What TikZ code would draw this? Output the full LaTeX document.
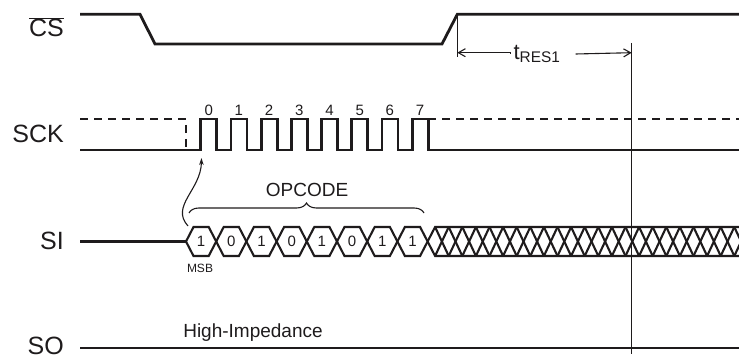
\documentclass[tikz,border=0pt]{standalone}
\usepackage{fontspec}
\setmainfont{Liberation Sans}
\usetikzlibrary{positioning,arrows.meta,decorations.pathreplacing}
\definecolor{ink}{RGB}{30,27,28}
\tikzset{sig/.style = {draw=ink, line width=2.8pt},
         hex/.style = {draw=ink, line width=2.1pt, line join=miter},
         marker/.style = {draw=ink, line width=1.1pt},
         lbl/.style = {anchor=base east, inner sep=0pt, text=ink, font=\fontsize{25}{26}\selectfont},
         num/.style = {inner sep=0pt, text=ink, font=\fontsize{15}{16}\selectfont},
         txt/.style = {inner sep=0pt, text=ink, font=\fontsize{19}{20}\selectfont}}

\begin{document}
\begin{tikzpicture}[x=1pt, y=-1pt]
  \useasboundingbox (0,0) rectangle (739,358);
  % signal names
  \node[lbl] (cs)  at (64,37)    {$\overline{\mbox{CS}}$};
  \node[lbl] (sck) at (64,142.7) {SCK};
  \node[lbl] (si)  at (64,249.3) {SI};
  \node[lbl] (so)  at (64,354)   {SO};

  % chip select
  \draw[sig] (80,14.3) -- (140,14.3) -- (155,44) -- (442,44) -- (457.3,14.3) -- (739,14.3);

  % clock
  \draw[sig, dash pattern=on 8pt off 6pt] (80,119) -- (186,119) -- (186,150);
  \draw[sig, dash pattern=on 8pt off 6pt] (428.1,119) -- (739,119);
  \draw[sig] (80,150) \foreach \i in {0,...,7} { -- ({200.7+30.2*\i},150) -- ({200.7+30.2*\i},119)
        -- ({216.7+30.2*\i},119) -- ({216.7+30.2*\i},150) } -- (739,150);
  \foreach \i in {0,...,7}
      \node[num] (clk\i) at ({208.7+30.2*\i},110) {\i};

  % serial in
  \draw[sig] (80,241.5) -- (186,241.5);
  \foreach \b [count=\i from 0] in {1,0,1,0,1,0,1,1} {
      \draw[hex] ({186+30.2*\i},241.5) -- ++(7.5,-14.5) -- ++(15.2,0) -- ++(7.5,14.5)
            -- ++(-7.5,14.5) -- ++(-15.2,0) -- cycle;
      \node[num] (bit\i) at ({201.1+30.2*\i},241.5) {\b};
  }
  \begin{scope}
      \clip (427,220) rectangle (739,262);
      \draw[hex] (739,227) -- (435.1,227) -- (427.6,241.5) -- (435.1,256) -- (739,256);
      \foreach \k in {0,...,22} {
          \draw[hex] ({435.1+13.6*\k},227) -- ++(13.6,29);
          \draw[hex] ({435.1+13.6*\k},256) -- ++(13.6,-29);
      }
  \end{scope}
  \node[num, font=\fontsize{12}{13}\selectfont] (msb) at (200,268) {MSB};

  % opcode brace
  \coordinate (opL) at (189,213);
  \coordinate (opR) at (424,213);
  \draw[marker, decorate, decoration={brace, amplitude=10pt}] (opL) -- (opR);
  \node[txt] (opcode) at (307,190) {OPCODE};

  % first edge
  \coordinate (tail) at (188,226);
  \coordinate (edge) at (201.5,158);
  \draw[marker, -{Stealth[length=7pt,width=4.5pt]}] (tail) .. controls (170,206) and (201,190) .. (edge);

  % serial out
  \draw[sig] (80,348) -- (739,348);
  \node[txt] (hiz) at (253,333) {High-Impedance};

  % t_RES1
  \coordinate (csup) at (457.3,14.3);
  \coordinate (ready) at (631.7,43);
  \draw[marker] (csup) -- (457.3,57);
  \draw[marker] (ready) -- (631.7,354);
  \node[inner sep=3pt, text=ink, font=\fontsize{22}{24}\selectfont] (tres) at (537,54) {t\textsubscript{RES1}};
  \draw[marker, -{Straight Barb[length=7pt,width=8pt]}] (tres.west) -- (457.3,52.7 -| tres.west) -- (457.3,52.7);
  \draw[marker, -{Straight Barb[length=7pt,width=8pt]}] ([xshift=12pt]tres.east) -- (631.7,52.7);
\end{tikzpicture}
\end{document}
